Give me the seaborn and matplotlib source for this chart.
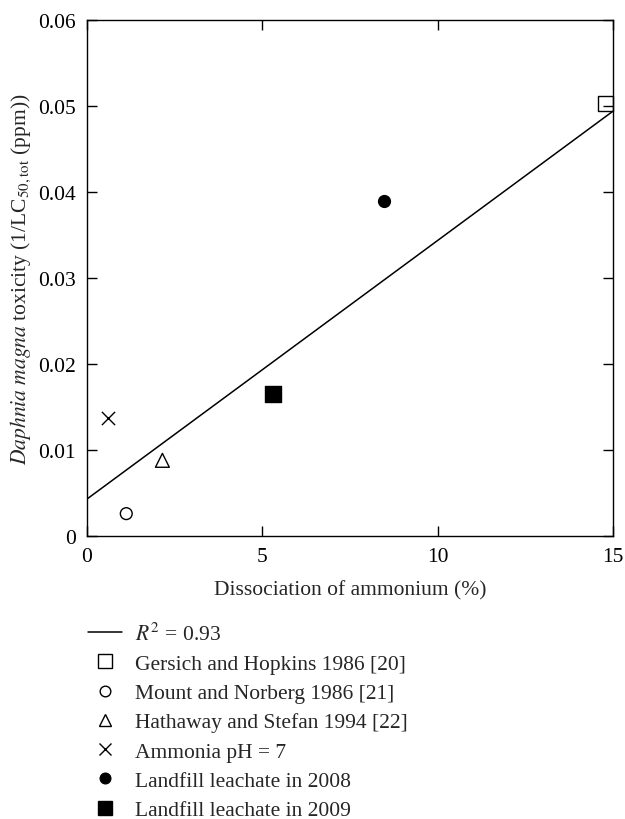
import matplotlib
matplotlib.use("Agg")
import matplotlib.pyplot as plt
import seaborn as sns
import pandas as pd
from matplotlib.lines import Line2D

# ---- data ----
series_labels = [
    "Gersich and Hopkins 1986 [20]",
    "Mount and Norberg 1986 [21]",
    "Hathaway and Stefan 1994 [22]",
    "Ammonia pH = 7",
    "Landfill leachate in 2008",
    "Landfill leachate in 2009",
]
dissociation = [14.78, 1.12, 2.15, 0.61, 8.46, 5.29]
toxicity = [0.0503, 0.0026, 0.0088, 0.0137, 0.0390, 0.0165]
fit_x = [0.0, 15.0]
fit_y = [0.0043, 0.0494]
fit_label = r"$R^2$ = 0.93"
x_ticks = [0, 5, 10, 15]
y_ticks = [0, 0.01, 0.02, 0.03, 0.04, 0.05, 0.06]
y_tick_labels = ["0", "0.01", "0.02", "0.03", "0.04", "0.05", "0.06"]

# ---- style ----
sns.set_theme(style="ticks")
plt.rcParams["font.family"] = ["Liberation Serif", "DejaVu Serif"]
plt.rcParams["mathtext.fontset"] = "stix"

FS = 15.5
markers = ["s", "o", "^", "x", "o", "s"]
faces = ["none", "none", "none", "black", "black", "black"]
sizes = [11, 8.5, 10, 9.5, 8.5, 11]

fig = plt.figure(figsize=(6.25, 8.2), dpi=100)
ax = fig.add_axes([87 / 625, 1 - 537 / 820, 526 / 625, 516 / 820])

fit_df = pd.DataFrame({"x": fit_x, "y": fit_y})
sns.lineplot(data=fit_df, x="x", y="y", ax=ax, color="black", lw=1.1, legend=False)

df = pd.DataFrame({"x": dissociation, "y": toxicity, "label": series_labels})
handles = [Line2D([], [], color="black", lw=1.1, label=fit_label)]
for i, row in df.iterrows():
    m = markers[i]
    sub = df.iloc[[i]]
    if m == "x":
        sns.scatterplot(data=sub, x="x", y="y", ax=ax, marker="x", s=sizes[i] ** 2,
                        color="black", linewidth=1.0, legend=False, clip_on=False, zorder=3)
    else:
        sns.scatterplot(data=sub, x="x", y="y", ax=ax, marker=m, s=sizes[i] ** 2,
                        facecolor=faces[i], edgecolor="black", linewidth=1.0,
                        legend=False, clip_on=False, zorder=3)
    handles.append(Line2D([], [], ls="none", marker=m, markersize=sizes[i] * 0.9,
                          markerfacecolor=faces[i], markeredgecolor="black",
                          markeredgewidth=1.0, color="black", label=row["label"]))

ax.set_xlim(0, 15)
ax.set_ylim(0, 0.06)
ax.set_xticks(x_ticks)
ax.set_xticklabels([str(t) for t in x_ticks])
ax.set_yticks(y_ticks)
ax.set_yticklabels(y_tick_labels)
ax.tick_params(direction="in", top=True, right=True, length=7, width=1.0,
               labelsize=FS, colors="black", pad=8)
for s in ax.spines.values():
    s.set_linewidth(1.0)
    s.set_color("black")

ax.set_xlabel("Dissociation of ammonium (%)", fontsize=FS, labelpad=10)
ax.set_ylabel(r"$\it{Daphnia\ magna}$ toxicity (1/LC$_{50,\mathrm{tot}}$ (ppm))",
              fontsize=FS, labelpad=4)

fig.legend(handles=handles, loc="upper left", bbox_to_anchor=(0.127, 0.2505),
           frameon=False, fontsize=FS, handlelength=1.6, handletextpad=0.6,
           labelspacing=0.43, borderaxespad=0)

fig.savefig("out.png", dpi=100, facecolor="white")
